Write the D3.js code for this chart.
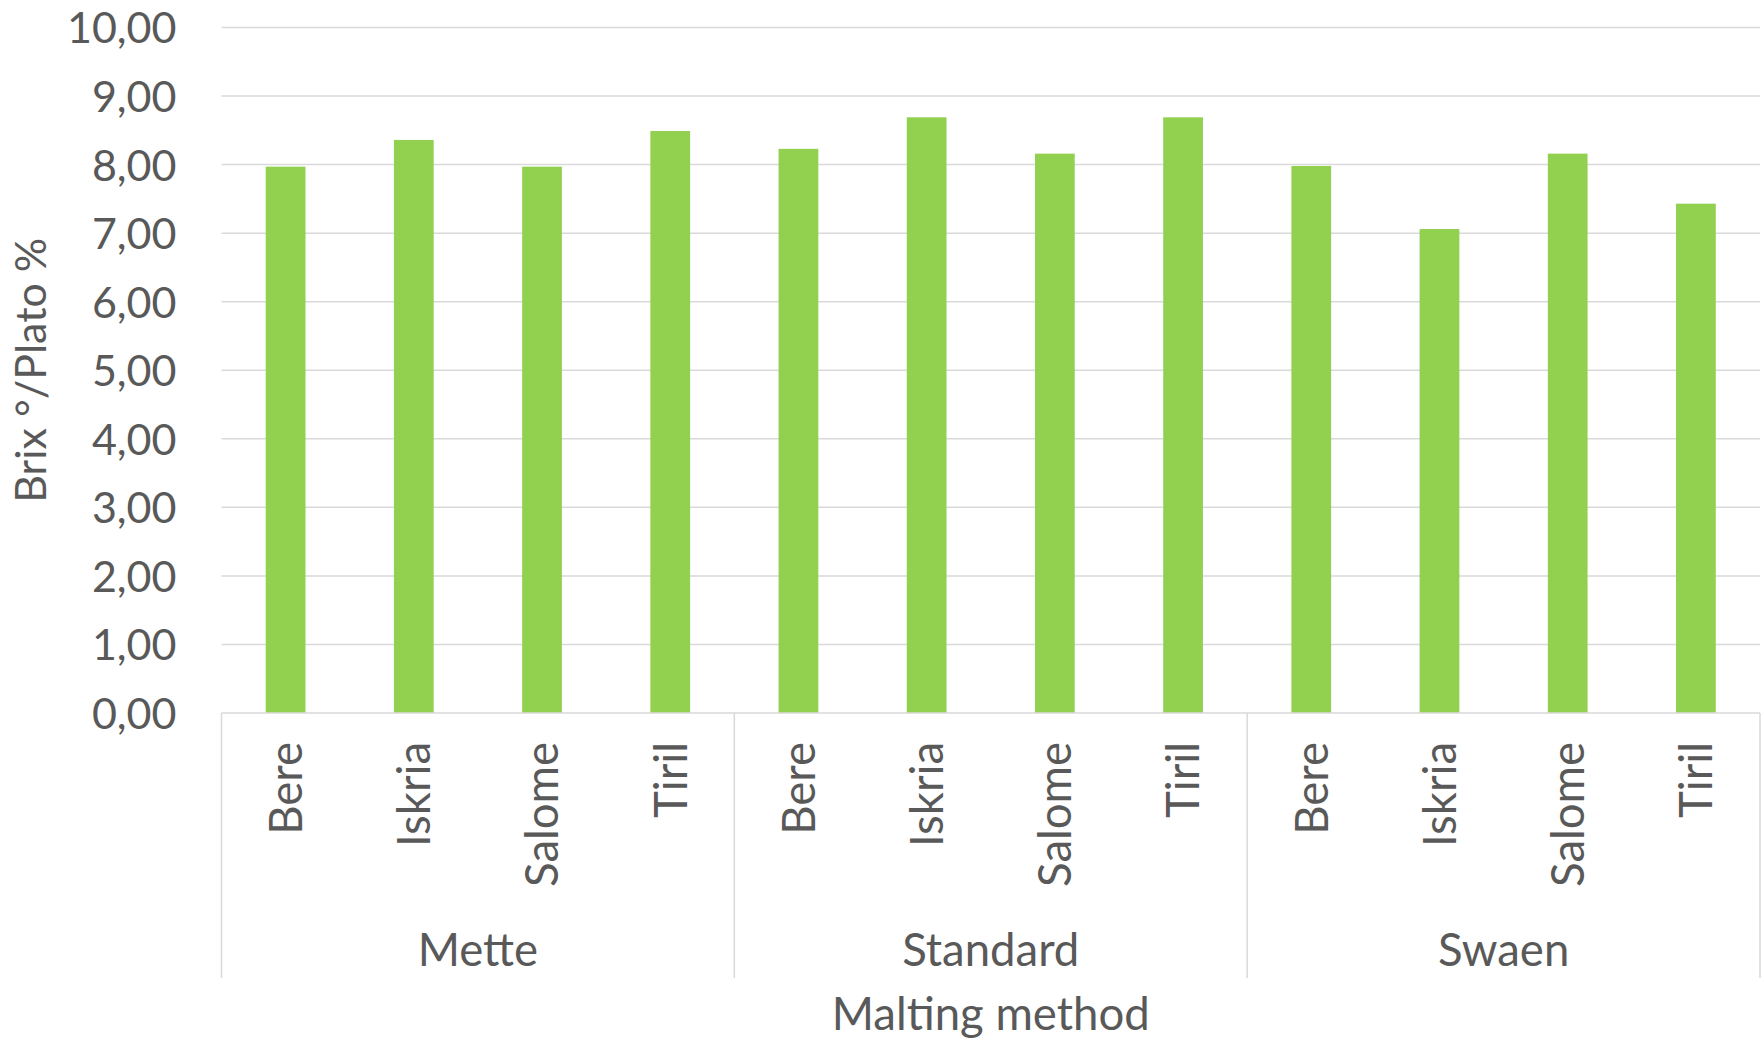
<!DOCTYPE html>
<html>
<head>
<meta charset="utf-8">
<script src="https://cdn.jsdelivr.net/npm/d3@7"></script>
<style>
  html, body { margin: 0; padding: 0; background: #fff; }
  svg { display: block; }
  text { font-family: Lato, "Open Sans", sans-serif; fill: #595959; }
</style>
</head>
<body>
<script>
// Malting methods (outer groups) and barley varieties (inner categories)
const methods = ["Mette", "Standard", "Swaen"];
const varieties = ["Bere", "Iskria", "Salome", "Tiril"];
// Brix/Plato values per method, in variety order
const metteValues = [7.97, 8.36, 7.97, 8.49];
const standardValues = [8.23, 8.69, 8.16, 8.69];
const swaenValues = [7.98, 7.06, 8.16, 7.43];
const yTicks = [0, 1, 2, 3, 4, 5, 6, 7, 8, 9, 10];

const seriesByMethod = [metteValues, standardValues, swaenValues];
const rows = [];
methods.forEach((m, gi) => {
  varieties.forEach((v, vi) => {
    rows.push({ key: m + "|" + v, method: m, variety: v, value: seriesByMethod[gi][vi] });
  });
});

const W = 1763, H = 1040;
const margin = { left: 221.5, right: 3, top: 27.5, bottom: 327 };
const plotW = W - margin.left - margin.right;
const plotH = H - margin.top - margin.bottom;

const svg = d3.select("body").append("svg").attr("width", W).attr("height", H);
const g = svg.append("g").attr("transform", `translate(${margin.left},${margin.top})`);

const x = d3.scaleBand().domain(rows.map(d => d.key)).range([0, plotW]).paddingInner(0.69).paddingOuter(0.345);
const xGroup = d3.scaleBand().domain(methods).range([0, plotW]);
const y = d3.scaleLinear().domain([0, 10]).range([plotH, 0]);

// Horizontal gridlines
g.append("g").selectAll("line").data(yTicks.filter(t => t > 0)).join("line")
  .attr("x1", 0).attr("x2", plotW)
  .attr("y1", d => y(d)).attr("y2", d => y(d))
  .attr("stroke", "#d9d9d9").attr("stroke-width", 1.5);

// Y axis labels
const yAxis = d3.axisLeft(y).tickValues(yTicks).tickSize(0).tickPadding(45)
  .tickFormat(d => d3.format(".2f")(d).replace(".", ","));
const yg = g.append("g").call(yAxis);
yg.select(".domain").remove();
yg.selectAll("text").attr("font-size", 43).attr("dy", "0.36em")
  .style("font-family", "Lato, sans-serif").attr("fill", "#595959");

// Bars
g.append("g").selectAll("rect").data(rows).join("rect")
  .attr("x", d => x(d.key)).attr("width", x.bandwidth())
  .attr("y", d => y(d.value)).attr("height", d => y(0) - y(d.value))
  .attr("fill", "#92d050");

// Category axis baseline
g.append("line").attr("x1", 0).attr("x2", plotW).attr("y1", plotH).attr("y2", plotH)
  .attr("stroke", "#d9d9d9").attr("stroke-width", 1.5);

// Group dividers
const dividerBottom = plotH + 265;
const dividers = methods.map(m => xGroup(m)).concat([plotW]);
g.append("g").selectAll("line").data(dividers).join("line")
  .attr("x1", d => d).attr("x2", d => d)
  .attr("y1", plotH).attr("y2", dividerBottom)
  .attr("stroke", "#d9d9d9").attr("stroke-width", 1.5);

// Variety labels (rotated)
g.append("g").selectAll("text").data(rows).join("text")
  .attr("transform", d => `translate(${x(d.key) + x.bandwidth() / 2},${plotH + 29}) rotate(-90)`)
  .attr("text-anchor", "end").attr("dy", "0.36em")
  .attr("font-size", 45.5)
  .text(d => d.variety);

// Method labels
g.append("g").selectAll("text").data(methods).join("text")
  .attr("x", d => xGroup(d) + xGroup.bandwidth() / 2)
  .attr("y", plotH + 237)
  .attr("text-anchor", "middle").attr("dy", "0.36em")
  .attr("font-size", 45.5)
  .text(d => d);

// Axis titles
svg.append("text")
  .attr("x", margin.left + plotW / 2).attr("y", 1014)
  .attr("text-anchor", "middle").attr("dy", "0.36em")
  .attr("font-size", 45.5)
  .text("Malting method");

svg.append("text")
  .attr("transform", `translate(31,${margin.top + plotH / 2}) rotate(-90)`)
  .attr("text-anchor", "middle").attr("dy", "0.36em")
  .attr("font-size", 43)
  .text("Brix °/Plato %");
</script>
</body>
</html>
